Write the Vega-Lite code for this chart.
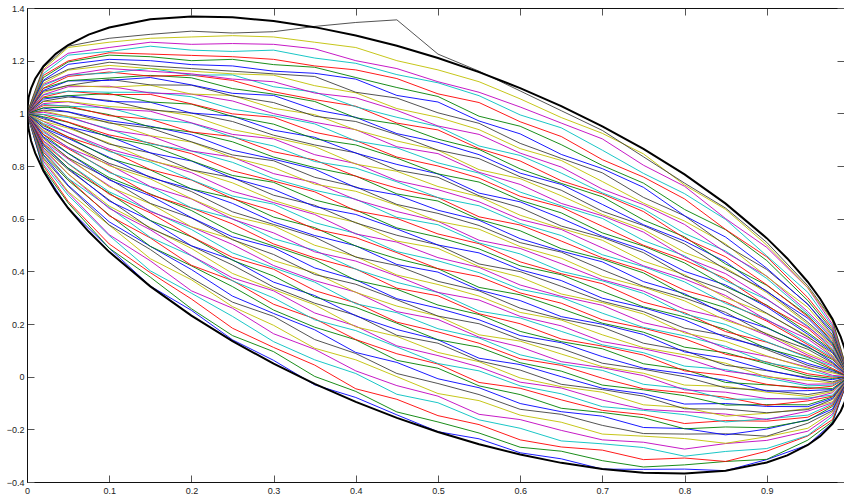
{
"$schema":"https://vega.github.io/schema/vega-lite/v6.json",
"width":817,"height":474,
"autosize":{"type":"none"},
"padding":{"left":27,"top":8,"right":0,"bottom":14},
"background":"white",
"config":{"view":{"stroke":"#111","strokeWidth":1},"axis":{"labelFont":"Liberation Sans","labelFontSize":9,"labelColor":"#222","tickColor":"#555","tickWidth":1,"domainColor":"#111","grid":false,"labelFlush":false,"labelOverlap":false}},
"datasets":{
"lines":[
{"k":0,"x":0,"y":1},{"k":0,"x":0.02,"y":0.785},{"k":0,"x":0.05,"y":0.640},{"k":0,"x":0.1,"y":0.488},{"k":0,"x":0.15,"y":0.344},{"k":0,"x":0.2,"y":0.252},{"k":0,"x":0.25,"y":0.140},{"k":0,"x":0.3,"y":0.062},{"k":0,"x":0.35,"y":-0.031},{"k":0,"x":0.4,"y":-0.079},{"k":0,"x":0.45,"y":-0.145},{"k":0,"x":0.5,"y":-0.209},{"k":0,"x":0.55,"y":-0.236},{"k":0,"x":0.6,"y":-0.289},{"k":0,"x":0.65,"y":-0.312},{"k":0,"x":0.7,"y":-0.351},{"k":0,"x":0.75,"y":-0.352},{"k":0,"x":0.8,"y":-0.351},{"k":0,"x":0.85,"y":-0.357},{"k":0,"x":0.9,"y":-0.315},{"k":0,"x":0.95,"y":-0.259},{"k":0,"x":0.98,"y":-0.175},{"k":0,"x":1,"y":0},
{"k":1,"x":0,"y":1},{"k":1,"x":0.02,"y":0.790},{"k":1,"x":0.05,"y":0.660},{"k":1,"x":0.1,"y":0.488},{"k":1,"x":0.15,"y":0.378},{"k":1,"x":0.2,"y":0.258},{"k":1,"x":0.25,"y":0.156},{"k":1,"x":0.3,"y":0.095},{"k":1,"x":0.35,"y":0.001},{"k":1,"x":0.4,"y":-0.056},{"k":1,"x":0.45,"y":-0.134},{"k":1,"x":0.5,"y":-0.172},{"k":1,"x":0.55,"y":-0.214},{"k":1,"x":0.6,"y":-0.268},{"k":1,"x":0.65,"y":-0.283},{"k":1,"x":0.7,"y":-0.319},{"k":1,"x":0.75,"y":-0.343},{"k":1,"x":0.8,"y":-0.335},{"k":1,"x":0.85,"y":-0.322},{"k":1,"x":0.9,"y":-0.314},{"k":1,"x":0.95,"y":-0.241},{"k":1,"x":0.98,"y":-0.170},{"k":1,"x":1,"y":0},
{"k":2,"x":0,"y":1},{"k":2,"x":0.02,"y":0.801},{"k":2,"x":0.05,"y":0.666},{"k":2,"x":0.1,"y":0.504},{"k":2,"x":0.15,"y":0.395},{"k":2,"x":0.2,"y":0.295},{"k":2,"x":0.25,"y":0.184},{"k":2,"x":0.3,"y":0.111},{"k":2,"x":0.35,"y":0.044},{"k":2,"x":0.4,"y":-0.046},{"k":2,"x":0.45,"y":-0.086},{"k":2,"x":0.5,"y":-0.148},{"k":2,"x":0.55,"y":-0.182},{"k":2,"x":0.6,"y":-0.240},{"k":2,"x":0.65,"y":-0.267},{"k":2,"x":0.7,"y":-0.279},{"k":2,"x":0.75,"y":-0.315},{"k":2,"x":0.8,"y":-0.309},{"k":2,"x":0.85,"y":-0.322},{"k":2,"x":0.9,"y":-0.283},{"k":2,"x":0.95,"y":-0.225},{"k":2,"x":0.98,"y":-0.163},{"k":2,"x":1,"y":0},
{"k":3,"x":0,"y":1},{"k":3,"x":0.02,"y":0.807},{"k":3,"x":0.05,"y":0.689},{"k":3,"x":0.1,"y":0.536},{"k":3,"x":0.15,"y":0.402},{"k":3,"x":0.2,"y":0.317},{"k":3,"x":0.25,"y":0.229},{"k":3,"x":0.3,"y":0.133},{"k":3,"x":0.35,"y":0.064},{"k":3,"x":0.4,"y":0.012},{"k":3,"x":0.45,"y":-0.067},{"k":3,"x":0.5,"y":-0.099},{"k":3,"x":0.55,"y":-0.164},{"k":3,"x":0.6,"y":-0.196},{"k":3,"x":0.65,"y":-0.244},{"k":3,"x":0.7,"y":-0.255},{"k":3,"x":0.75,"y":-0.269},{"k":3,"x":0.8,"y":-0.302},{"k":3,"x":0.85,"y":-0.284},{"k":3,"x":0.9,"y":-0.273},{"k":3,"x":0.95,"y":-0.223},{"k":3,"x":0.98,"y":-0.150},{"k":3,"x":1,"y":0},
{"k":4,"x":0,"y":1},{"k":4,"x":0.02,"y":0.818},{"k":4,"x":0.05,"y":0.699},{"k":4,"x":0.1,"y":0.539},{"k":4,"x":0.15,"y":0.440},{"k":4,"x":0.2,"y":0.326},{"k":4,"x":0.25,"y":0.260},{"k":4,"x":0.3,"y":0.163},{"k":4,"x":0.35,"y":0.104},{"k":4,"x":0.4,"y":0.022},{"k":4,"x":0.45,"y":-0.034},{"k":4,"x":0.5,"y":-0.074},{"k":4,"x":0.55,"y":-0.143},{"k":4,"x":0.6,"y":-0.163},{"k":4,"x":0.65,"y":-0.204},{"k":4,"x":0.7,"y":-0.240},{"k":4,"x":0.75,"y":-0.249},{"k":4,"x":0.8,"y":-0.275},{"k":4,"x":0.85,"y":-0.254},{"k":4,"x":0.9,"y":-0.242},{"k":4,"x":0.95,"y":-0.207},{"k":4,"x":0.98,"y":-0.142},{"k":4,"x":1,"y":0},
{"k":5,"x":0,"y":1},{"k":5,"x":0.02,"y":0.826},{"k":5,"x":0.05,"y":0.703},{"k":5,"x":0.1,"y":0.575},{"k":5,"x":0.15,"y":0.448},{"k":5,"x":0.2,"y":0.368},{"k":5,"x":0.25,"y":0.266},{"k":5,"x":0.3,"y":0.195},{"k":5,"x":0.35,"y":0.108},{"k":5,"x":0.4,"y":0.064},{"k":5,"x":0.45,"y":0.000},{"k":5,"x":0.5,"y":-0.064},{"k":5,"x":0.55,"y":-0.091},{"k":5,"x":0.6,"y":-0.146},{"k":5,"x":0.65,"y":-0.173},{"k":5,"x":0.7,"y":-0.218},{"k":5,"x":0.75,"y":-0.226},{"k":5,"x":0.8,"y":-0.235},{"k":5,"x":0.85,"y":-0.253},{"k":5,"x":0.9,"y":-0.228},{"k":5,"x":0.95,"y":-0.196},{"k":5,"x":0.98,"y":-0.134},{"k":5,"x":1,"y":0},
{"k":6,"x":0,"y":1},{"k":6,"x":0.02,"y":0.831},{"k":6,"x":0.05,"y":0.724},{"k":6,"x":0.1,"y":0.576},{"k":6,"x":0.15,"y":0.483},{"k":6,"x":0.2,"y":0.375},{"k":6,"x":0.25,"y":0.283},{"k":6,"x":0.3,"y":0.229},{"k":6,"x":0.35,"y":0.141},{"k":6,"x":0.4,"y":0.088},{"k":6,"x":0.45,"y":0.012},{"k":6,"x":0.5,"y":-0.026},{"k":6,"x":0.55,"y":-0.068},{"k":6,"x":0.6,"y":-0.124},{"k":6,"x":0.65,"y":-0.143},{"k":6,"x":0.7,"y":-0.185},{"k":6,"x":0.75,"y":-0.216},{"k":6,"x":0.8,"y":-0.218},{"k":6,"x":0.85,"y":-0.217},{"k":6,"x":0.9,"y":-0.226},{"k":6,"x":0.95,"y":-0.177},{"k":6,"x":0.98,"y":-0.129},{"k":6,"x":1,"y":0},
{"k":7,"x":0,"y":1},{"k":7,"x":0.02,"y":0.841},{"k":7,"x":0.05,"y":0.727},{"k":7,"x":0.1,"y":0.588},{"k":7,"x":0.15,"y":0.495},{"k":7,"x":0.2,"y":0.407},{"k":7,"x":0.25,"y":0.306},{"k":7,"x":0.3,"y":0.240},{"k":7,"x":0.35,"y":0.178},{"k":7,"x":0.4,"y":0.092},{"k":7,"x":0.45,"y":0.054},{"k":7,"x":0.5,"y":-0.008},{"k":7,"x":0.55,"y":-0.042},{"k":7,"x":0.6,"y":-0.102},{"k":7,"x":0.65,"y":-0.133},{"k":7,"x":0.7,"y":-0.150},{"k":7,"x":0.75,"y":-0.193},{"k":7,"x":0.8,"y":-0.197},{"k":7,"x":0.85,"y":-0.221},{"k":7,"x":0.9,"y":-0.199},{"k":7,"x":0.95,"y":-0.164},{"k":7,"x":0.98,"y":-0.123},{"k":7,"x":1,"y":0},
{"k":8,"x":0,"y":1},{"k":8,"x":0.02,"y":0.843},{"k":8,"x":0.05,"y":0.746},{"k":8,"x":0.1,"y":0.614},{"k":8,"x":0.15,"y":0.495},{"k":8,"x":0.2,"y":0.421},{"k":8,"x":0.25,"y":0.342},{"k":8,"x":0.3,"y":0.253},{"k":8,"x":0.35,"y":0.188},{"k":8,"x":0.4,"y":0.140},{"k":8,"x":0.45,"y":0.062},{"k":8,"x":0.5,"y":0.032},{"k":8,"x":0.55,"y":-0.035},{"k":8,"x":0.6,"y":-0.068},{"k":8,"x":0.65,"y":-0.120},{"k":8,"x":0.7,"y":-0.136},{"k":8,"x":0.75,"y":-0.156},{"k":8,"x":0.8,"y":-0.198},{"k":8,"x":0.85,"y":-0.191},{"k":8,"x":0.9,"y":-0.194},{"k":8,"x":0.95,"y":-0.166},{"k":8,"x":0.98,"y":-0.113},{"k":8,"x":1,"y":0},
{"k":9,"x":0,"y":1},{"k":9,"x":0.02,"y":0.852},{"k":9,"x":0.05,"y":0.752},{"k":9,"x":0.1,"y":0.611},{"k":9,"x":0.15,"y":0.527},{"k":9,"x":0.2,"y":0.423},{"k":9,"x":0.25,"y":0.365},{"k":9,"x":0.3,"y":0.275},{"k":9,"x":0.35,"y":0.220},{"k":9,"x":0.4,"y":0.141},{"k":9,"x":0.45,"y":0.087},{"k":9,"x":0.5,"y":0.048},{"k":9,"x":0.55,"y":-0.022},{"k":9,"x":0.6,"y":-0.044},{"k":9,"x":0.65,"y":-0.088},{"k":9,"x":0.7,"y":-0.128},{"k":9,"x":0.75,"y":-0.144},{"k":9,"x":0.8,"y":-0.178},{"k":9,"x":0.85,"y":-0.167},{"k":9,"x":0.9,"y":-0.169},{"k":9,"x":0.95,"y":-0.154},{"k":9,"x":0.98,"y":-0.108},{"k":9,"x":1,"y":0},
{"k":10,"x":0,"y":1},{"k":10,"x":0.02,"y":0.858},{"k":10,"x":0.05,"y":0.753},{"k":10,"x":0.1,"y":0.643},{"k":10,"x":0.15,"y":0.529},{"k":10,"x":0.2,"y":0.459},{"k":10,"x":0.25,"y":0.364},{"k":10,"x":0.3,"y":0.299},{"k":10,"x":0.35,"y":0.216},{"k":10,"x":0.4,"y":0.175},{"k":10,"x":0.45,"y":0.113},{"k":10,"x":0.5,"y":0.050},{"k":10,"x":0.55,"y":0.022},{"k":10,"x":0.6,"y":-0.035},{"k":10,"x":0.65,"y":-0.065},{"k":10,"x":0.7,"y":-0.114},{"k":10,"x":0.75,"y":-0.128},{"k":10,"x":0.8,"y":-0.144},{"k":10,"x":0.85,"y":-0.172},{"k":10,"x":0.9,"y":-0.160},{"k":10,"x":0.95,"y":-0.146},{"k":10,"x":0.98,"y":-0.103},{"k":10,"x":1,"y":0},
{"k":11,"x":0,"y":1},{"k":11,"x":0.02,"y":0.861},{"k":11,"x":0.05,"y":0.770},{"k":11,"x":0.1,"y":0.639},{"k":11,"x":0.15,"y":0.558},{"k":11,"x":0.2,"y":0.460},{"k":11,"x":0.25,"y":0.375},{"k":11,"x":0.3,"y":0.326},{"k":11,"x":0.35,"y":0.242},{"k":11,"x":0.4,"y":0.192},{"k":11,"x":0.45,"y":0.117},{"k":11,"x":0.5,"y":0.080},{"k":11,"x":0.55,"y":0.037},{"k":11,"x":0.6,"y":-0.021},{"k":11,"x":0.65,"y":-0.043},{"k":11,"x":0.7,"y":-0.089},{"k":11,"x":0.75,"y":-0.124},{"k":11,"x":0.8,"y":-0.133},{"k":11,"x":0.85,"y":-0.142},{"k":11,"x":0.9,"y":-0.163},{"k":11,"x":0.95,"y":-0.131},{"k":11,"x":0.98,"y":-0.099},{"k":11,"x":1,"y":0},
{"k":12,"x":0,"y":1},{"k":12,"x":0.02,"y":0.869},{"k":12,"x":0.05,"y":0.770},{"k":12,"x":0.1,"y":0.648},{"k":12,"x":0.15,"y":0.566},{"k":12,"x":0.2,"y":0.487},{"k":12,"x":0.25,"y":0.392},{"k":12,"x":0.3,"y":0.331},{"k":12,"x":0.35,"y":0.273},{"k":12,"x":0.4,"y":0.189},{"k":12,"x":0.45,"y":0.153},{"k":12,"x":0.5,"y":0.092},{"k":12,"x":0.55,"y":0.057},{"k":12,"x":0.6,"y":-0.005},{"k":12,"x":0.65,"y":-0.038},{"k":12,"x":0.7,"y":-0.059},{"k":12,"x":0.75,"y":-0.107},{"k":12,"x":0.8,"y":-0.117},{"k":12,"x":0.85,"y":-0.150},{"k":12,"x":0.9,"y":-0.139},{"k":12,"x":0.95,"y":-0.121},{"k":12,"x":0.98,"y":-0.095},{"k":12,"x":1,"y":0},
{"k":13,"x":0,"y":1},{"k":13,"x":0.02,"y":0.870},{"k":13,"x":0.05,"y":0.787},{"k":13,"x":0.1,"y":0.671},{"k":13,"x":0.15,"y":0.563},{"k":13,"x":0.2,"y":0.497},{"k":13,"x":0.25,"y":0.424},{"k":13,"x":0.3,"y":0.340},{"k":13,"x":0.35,"y":0.279},{"k":13,"x":0.4,"y":0.233},{"k":13,"x":0.45,"y":0.157},{"k":13,"x":0.5,"y":0.127},{"k":13,"x":0.55,"y":0.060},{"k":13,"x":0.6,"y":0.025},{"k":13,"x":0.65,"y":-0.029},{"k":13,"x":0.7,"y":-0.049},{"k":13,"x":0.75,"y":-0.074},{"k":13,"x":0.8,"y":-0.122},{"k":13,"x":0.85,"y":-0.123},{"k":13,"x":0.9,"y":-0.137},{"k":13,"x":0.95,"y":-0.125},{"k":13,"x":0.98,"y":-0.086},{"k":13,"x":1,"y":0},
{"k":14,"x":0,"y":1},{"k":14,"x":0.02,"y":0.878},{"k":14,"x":0.05,"y":0.792},{"k":14,"x":0.1,"y":0.667},{"k":14,"x":0.15,"y":0.593},{"k":14,"x":0.2,"y":0.497},{"k":14,"x":0.25,"y":0.444},{"k":14,"x":0.3,"y":0.359},{"k":14,"x":0.35,"y":0.308},{"k":14,"x":0.4,"y":0.231},{"k":14,"x":0.45,"y":0.179},{"k":14,"x":0.5,"y":0.140},{"k":14,"x":0.55,"y":0.070},{"k":14,"x":0.6,"y":0.046},{"k":14,"x":0.65,"y":0.000},{"k":14,"x":0.7,"y":-0.044},{"k":14,"x":0.75,"y":-0.065},{"k":14,"x":0.8,"y":-0.104},{"k":14,"x":0.85,"y":-0.102},{"k":14,"x":0.9,"y":-0.113},{"k":14,"x":0.95,"y":-0.114},{"k":14,"x":0.98,"y":-0.082},{"k":14,"x":1,"y":0},
{"k":15,"x":0,"y":1},{"k":15,"x":0.02,"y":0.883},{"k":15,"x":0.05,"y":0.792},{"k":15,"x":0.1,"y":0.697},{"k":15,"x":0.15,"y":0.593},{"k":15,"x":0.2,"y":0.531},{"k":15,"x":0.25,"y":0.442},{"k":15,"x":0.3,"y":0.382},{"k":15,"x":0.35,"y":0.302},{"k":15,"x":0.4,"y":0.263},{"k":15,"x":0.45,"y":0.203},{"k":15,"x":0.5,"y":0.140},{"k":15,"x":0.55,"y":0.112},{"k":15,"x":0.6,"y":0.053},{"k":15,"x":0.65,"y":0.021},{"k":15,"x":0.7,"y":-0.032},{"k":15,"x":0.75,"y":-0.050},{"k":15,"x":0.8,"y":-0.072},{"k":15,"x":0.85,"y":-0.108},{"k":15,"x":0.9,"y":-0.106},{"k":15,"x":0.95,"y":-0.107},{"k":15,"x":0.98,"y":-0.077},{"k":15,"x":1,"y":0},
{"k":16,"x":0,"y":1},{"k":16,"x":0.02,"y":0.886},{"k":16,"x":0.05,"y":0.809},{"k":16,"x":0.1,"y":0.693},{"k":16,"x":0.15,"y":0.622},{"k":16,"x":0.2,"y":0.532},{"k":16,"x":0.25,"y":0.453},{"k":16,"x":0.3,"y":0.408},{"k":16,"x":0.35,"y":0.327},{"k":16,"x":0.4,"y":0.280},{"k":16,"x":0.45,"y":0.207},{"k":16,"x":0.5,"y":0.170},{"k":16,"x":0.55,"y":0.127},{"k":16,"x":0.6,"y":0.068},{"k":16,"x":0.65,"y":0.043},{"k":16,"x":0.7,"y":-0.006},{"k":16,"x":0.75,"y":-0.046},{"k":16,"x":0.8,"y":-0.061},{"k":16,"x":0.85,"y":-0.078},{"k":16,"x":0.9,"y":-0.109},{"k":16,"x":0.95,"y":-0.092},{"k":16,"x":0.98,"y":-0.074},{"k":16,"x":1,"y":0},
{"k":17,"x":0,"y":1},{"k":17,"x":0.02,"y":0.894},{"k":17,"x":0.05,"y":0.810},{"k":17,"x":0.1,"y":0.702},{"k":17,"x":0.15,"y":0.630},{"k":17,"x":0.2,"y":0.559},{"k":17,"x":0.25,"y":0.470},{"k":17,"x":0.3,"y":0.414},{"k":17,"x":0.35,"y":0.359},{"k":17,"x":0.4,"y":0.277},{"k":17,"x":0.45,"y":0.243},{"k":17,"x":0.5,"y":0.182},{"k":17,"x":0.55,"y":0.147},{"k":17,"x":0.6,"y":0.083},{"k":17,"x":0.65,"y":0.048},{"k":17,"x":0.7,"y":0.024},{"k":17,"x":0.75,"y":-0.029},{"k":17,"x":0.8,"y":-0.045},{"k":17,"x":0.85,"y":-0.086},{"k":17,"x":0.9,"y":-0.085},{"k":17,"x":0.95,"y":-0.081},{"k":17,"x":0.98,"y":-0.070},{"k":17,"x":1,"y":0},
{"k":18,"x":0,"y":1},{"k":18,"x":0.02,"y":0.895},{"k":18,"x":0.05,"y":0.827},{"k":18,"x":0.1,"y":0.725},{"k":18,"x":0.15,"y":0.627},{"k":18,"x":0.2,"y":0.569},{"k":18,"x":0.25,"y":0.502},{"k":18,"x":0.3,"y":0.422},{"k":18,"x":0.35,"y":0.365},{"k":18,"x":0.4,"y":0.321},{"k":18,"x":0.45,"y":0.247},{"k":18,"x":0.5,"y":0.217},{"k":18,"x":0.55,"y":0.150},{"k":18,"x":0.6,"y":0.113},{"k":18,"x":0.65,"y":0.057},{"k":18,"x":0.7,"y":0.034},{"k":18,"x":0.75,"y":0.004},{"k":18,"x":0.8,"y":-0.050},{"k":18,"x":0.85,"y":-0.059},{"k":18,"x":0.9,"y":-0.083},{"k":18,"x":0.95,"y":-0.086},{"k":18,"x":0.98,"y":-0.061},{"k":18,"x":1,"y":0},
{"k":19,"x":0,"y":1},{"k":19,"x":0.02,"y":0.903},{"k":19,"x":0.05,"y":0.831},{"k":19,"x":0.1,"y":0.721},{"k":19,"x":0.15,"y":0.657},{"k":19,"x":0.2,"y":0.569},{"k":19,"x":0.25,"y":0.522},{"k":19,"x":0.3,"y":0.441},{"k":19,"x":0.35,"y":0.394},{"k":19,"x":0.4,"y":0.320},{"k":19,"x":0.45,"y":0.268},{"k":19,"x":0.5,"y":0.230},{"k":19,"x":0.55,"y":0.159},{"k":19,"x":0.6,"y":0.135},{"k":19,"x":0.65,"y":0.086},{"k":19,"x":0.7,"y":0.038},{"k":19,"x":0.75,"y":0.013},{"k":19,"x":0.8,"y":-0.032},{"k":19,"x":0.85,"y":-0.037},{"k":19,"x":0.9,"y":-0.059},{"k":19,"x":0.95,"y":-0.075},{"k":19,"x":0.98,"y":-0.057},{"k":19,"x":1,"y":0},
{"k":20,"x":0,"y":1},{"k":20,"x":0.02,"y":0.908},{"k":20,"x":0.05,"y":0.831},{"k":20,"x":0.1,"y":0.751},{"k":20,"x":0.15,"y":0.658},{"k":20,"x":0.2,"y":0.603},{"k":20,"x":0.25,"y":0.520},{"k":20,"x":0.3,"y":0.464},{"k":20,"x":0.35,"y":0.388},{"k":20,"x":0.4,"y":0.351},{"k":20,"x":0.45,"y":0.292},{"k":20,"x":0.5,"y":0.230},{"k":20,"x":0.55,"y":0.201},{"k":20,"x":0.6,"y":0.141},{"k":20,"x":0.65,"y":0.107},{"k":20,"x":0.7,"y":0.051},{"k":20,"x":0.75,"y":0.028},{"k":20,"x":0.8,"y":0.000},{"k":20,"x":0.85,"y":-0.043},{"k":20,"x":0.9,"y":-0.052},{"k":20,"x":0.95,"y":-0.068},{"k":20,"x":0.98,"y":-0.052},{"k":20,"x":1,"y":0},
{"k":21,"x":0,"y":1},{"k":21,"x":0.02,"y":0.911},{"k":21,"x":0.05,"y":0.848},{"k":21,"x":0.1,"y":0.747},{"k":21,"x":0.15,"y":0.687},{"k":21,"x":0.2,"y":0.604},{"k":21,"x":0.25,"y":0.531},{"k":21,"x":0.3,"y":0.490},{"k":21,"x":0.35,"y":0.413},{"k":21,"x":0.4,"y":0.368},{"k":21,"x":0.45,"y":0.296},{"k":21,"x":0.5,"y":0.260},{"k":21,"x":0.55,"y":0.216},{"k":21,"x":0.6,"y":0.156},{"k":21,"x":0.65,"y":0.129},{"k":21,"x":0.7,"y":0.076},{"k":21,"x":0.75,"y":0.032},{"k":21,"x":0.8,"y":0.011},{"k":21,"x":0.85,"y":-0.014},{"k":21,"x":0.9,"y":-0.055},{"k":21,"x":0.95,"y":-0.053},{"k":21,"x":0.98,"y":-0.049},{"k":21,"x":1,"y":0},
{"k":22,"x":0,"y":1},{"k":22,"x":0.02,"y":0.919},{"k":22,"x":0.05,"y":0.849},{"k":22,"x":0.1,"y":0.756},{"k":22,"x":0.15,"y":0.694},{"k":22,"x":0.2,"y":0.631},{"k":22,"x":0.25,"y":0.548},{"k":22,"x":0.3,"y":0.496},{"k":22,"x":0.35,"y":0.444},{"k":22,"x":0.4,"y":0.366},{"k":22,"x":0.45,"y":0.332},{"k":22,"x":0.5,"y":0.272},{"k":22,"x":0.55,"y":0.236},{"k":22,"x":0.6,"y":0.172},{"k":22,"x":0.65,"y":0.133},{"k":22,"x":0.7,"y":0.106},{"k":22,"x":0.75,"y":0.049},{"k":22,"x":0.8,"y":0.027},{"k":22,"x":0.85,"y":-0.022},{"k":22,"x":0.9,"y":-0.031},{"k":22,"x":0.95,"y":-0.042},{"k":22,"x":0.98,"y":-0.045},{"k":22,"x":1,"y":0},
{"k":23,"x":0,"y":1},{"k":23,"x":0.02,"y":0.920},{"k":23,"x":0.05,"y":0.866},{"k":23,"x":0.1,"y":0.779},{"k":23,"x":0.15,"y":0.691},{"k":23,"x":0.2,"y":0.641},{"k":23,"x":0.25,"y":0.580},{"k":23,"x":0.3,"y":0.504},{"k":23,"x":0.35,"y":0.451},{"k":23,"x":0.4,"y":0.409},{"k":23,"x":0.45,"y":0.336},{"k":23,"x":0.5,"y":0.307},{"k":23,"x":0.55,"y":0.239},{"k":23,"x":0.6,"y":0.201},{"k":23,"x":0.65,"y":0.143},{"k":23,"x":0.7,"y":0.116},{"k":23,"x":0.75,"y":0.082},{"k":23,"x":0.8,"y":0.022},{"k":23,"x":0.85,"y":0.005},{"k":23,"x":0.9,"y":-0.029},{"k":23,"x":0.95,"y":-0.046},{"k":23,"x":0.98,"y":-0.036},{"k":23,"x":1,"y":0},
{"k":24,"x":0,"y":1},{"k":24,"x":0.02,"y":0.928},{"k":24,"x":0.05,"y":0.871},{"k":24,"x":0.1,"y":0.775},{"k":24,"x":0.15,"y":0.721},{"k":24,"x":0.2,"y":0.641},{"k":24,"x":0.25,"y":0.600},{"k":24,"x":0.3,"y":0.524},{"k":24,"x":0.35,"y":0.480},{"k":24,"x":0.4,"y":0.408},{"k":24,"x":0.45,"y":0.358},{"k":24,"x":0.5,"y":0.320},{"k":24,"x":0.55,"y":0.249},{"k":24,"x":0.6,"y":0.223},{"k":24,"x":0.65,"y":0.172},{"k":24,"x":0.7,"y":0.121},{"k":24,"x":0.75,"y":0.091},{"k":24,"x":0.8,"y":0.040},{"k":24,"x":0.85,"y":0.027},{"k":24,"x":0.9,"y":-0.005},{"k":24,"x":0.95,"y":-0.035},{"k":24,"x":0.98,"y":-0.032},{"k":24,"x":1,"y":0},
{"k":25,"x":0,"y":1},{"k":25,"x":0.02,"y":0.933},{"k":25,"x":0.05,"y":0.870},{"k":25,"x":0.1,"y":0.805},{"k":25,"x":0.15,"y":0.722},{"k":25,"x":0.2,"y":0.675},{"k":25,"x":0.25,"y":0.598},{"k":25,"x":0.3,"y":0.546},{"k":25,"x":0.35,"y":0.474},{"k":25,"x":0.4,"y":0.439},{"k":25,"x":0.45,"y":0.382},{"k":25,"x":0.5,"y":0.320},{"k":25,"x":0.55,"y":0.291},{"k":25,"x":0.6,"y":0.229},{"k":25,"x":0.65,"y":0.193},{"k":25,"x":0.7,"y":0.133},{"k":25,"x":0.75,"y":0.106},{"k":25,"x":0.8,"y":0.072},{"k":25,"x":0.85,"y":0.021},{"k":25,"x":0.9,"y":0.002},{"k":25,"x":0.95,"y":-0.029},{"k":25,"x":0.98,"y":-0.027},{"k":25,"x":1,"y":0},
{"k":26,"x":0,"y":1},{"k":26,"x":0.02,"y":0.936},{"k":26,"x":0.05,"y":0.887},{"k":26,"x":0.1,"y":0.801},{"k":26,"x":0.15,"y":0.751},{"k":26,"x":0.2,"y":0.676},{"k":26,"x":0.25,"y":0.609},{"k":26,"x":0.3,"y":0.573},{"k":26,"x":0.35,"y":0.499},{"k":26,"x":0.4,"y":0.456},{"k":26,"x":0.45,"y":0.386},{"k":26,"x":0.5,"y":0.350},{"k":26,"x":0.55,"y":0.306},{"k":26,"x":0.6,"y":0.244},{"k":26,"x":0.65,"y":0.215},{"k":26,"x":0.7,"y":0.159},{"k":26,"x":0.75,"y":0.110},{"k":26,"x":0.8,"y":0.083},{"k":26,"x":0.85,"y":0.051},{"k":26,"x":0.9,"y":-0.001},{"k":26,"x":0.95,"y":-0.014},{"k":26,"x":0.98,"y":-0.024},{"k":26,"x":1,"y":0},
{"k":27,"x":0,"y":1},{"k":27,"x":0.02,"y":0.944},{"k":27,"x":0.05,"y":0.888},{"k":27,"x":0.1,"y":0.810},{"k":27,"x":0.15,"y":0.759},{"k":27,"x":0.2,"y":0.703},{"k":27,"x":0.25,"y":0.626},{"k":27,"x":0.3,"y":0.578},{"k":27,"x":0.35,"y":0.530},{"k":27,"x":0.4,"y":0.454},{"k":27,"x":0.45,"y":0.422},{"k":27,"x":0.5,"y":0.362},{"k":27,"x":0.55,"y":0.326},{"k":27,"x":0.6,"y":0.260},{"k":27,"x":0.65,"y":0.219},{"k":27,"x":0.7,"y":0.188},{"k":27,"x":0.75,"y":0.127},{"k":27,"x":0.8,"y":0.099},{"k":27,"x":0.85,"y":0.043},{"k":27,"x":0.9,"y":0.023},{"k":27,"x":0.95,"y":-0.003},{"k":27,"x":0.98,"y":-0.020},{"k":27,"x":1,"y":0},
{"k":28,"x":0,"y":1},{"k":28,"x":0.02,"y":0.945},{"k":28,"x":0.05,"y":0.905},{"k":28,"x":0.1,"y":0.833},{"k":28,"x":0.15,"y":0.756},{"k":28,"x":0.2,"y":0.713},{"k":28,"x":0.25,"y":0.658},{"k":28,"x":0.3,"y":0.587},{"k":28,"x":0.35,"y":0.536},{"k":28,"x":0.4,"y":0.497},{"k":28,"x":0.45,"y":0.426},{"k":28,"x":0.5,"y":0.397},{"k":28,"x":0.55,"y":0.329},{"k":28,"x":0.6,"y":0.289},{"k":28,"x":0.65,"y":0.228},{"k":28,"x":0.7,"y":0.199},{"k":28,"x":0.75,"y":0.160},{"k":28,"x":0.8,"y":0.094},{"k":28,"x":0.85,"y":0.070},{"k":28,"x":0.9,"y":0.025},{"k":28,"x":0.95,"y":-0.007},{"k":28,"x":0.98,"y":-0.011},{"k":28,"x":1,"y":0},
{"k":29,"x":0,"y":1},{"k":29,"x":0.02,"y":0.953},{"k":29,"x":0.05,"y":0.910},{"k":29,"x":0.1,"y":0.829},{"k":29,"x":0.15,"y":0.785},{"k":29,"x":0.2,"y":0.713},{"k":29,"x":0.25,"y":0.678},{"k":29,"x":0.3,"y":0.606},{"k":29,"x":0.35,"y":0.566},{"k":29,"x":0.4,"y":0.496},{"k":29,"x":0.45,"y":0.448},{"k":29,"x":0.5,"y":0.410},{"k":29,"x":0.55,"y":0.339},{"k":29,"x":0.6,"y":0.311},{"k":29,"x":0.65,"y":0.258},{"k":29,"x":0.7,"y":0.203},{"k":29,"x":0.75,"y":0.169},{"k":29,"x":0.8,"y":0.112},{"k":29,"x":0.85,"y":0.091},{"k":29,"x":0.9,"y":0.049},{"k":29,"x":0.95,"y":0.004},{"k":29,"x":0.98,"y":-0.007},{"k":29,"x":1,"y":0},
{"k":30,"x":0,"y":1},{"k":30,"x":0.02,"y":0.958},{"k":30,"x":0.05,"y":0.910},{"k":30,"x":0.1,"y":0.859},{"k":30,"x":0.15,"y":0.786},{"k":30,"x":0.2,"y":0.747},{"k":30,"x":0.25,"y":0.676},{"k":30,"x":0.3,"y":0.629},{"k":30,"x":0.35,"y":0.560},{"k":30,"x":0.4,"y":0.528},{"k":30,"x":0.45,"y":0.471},{"k":30,"x":0.5,"y":0.410},{"k":30,"x":0.55,"y":0.380},{"k":30,"x":0.6,"y":0.318},{"k":30,"x":0.65,"y":0.279},{"k":30,"x":0.7,"y":0.216},{"k":30,"x":0.75,"y":0.184},{"k":30,"x":0.8,"y":0.144},{"k":30,"x":0.85,"y":0.085},{"k":30,"x":0.9,"y":0.056},{"k":30,"x":0.95,"y":0.011},{"k":30,"x":0.98,"y":-0.002},{"k":30,"x":1,"y":0},
{"k":31,"x":0,"y":1},{"k":31,"x":0.02,"y":0.961},{"k":31,"x":0.05,"y":0.927},{"k":31,"x":0.1,"y":0.855},{"k":31,"x":0.15,"y":0.815},{"k":31,"x":0.2,"y":0.748},{"k":31,"x":0.25,"y":0.686},{"k":31,"x":0.3,"y":0.655},{"k":31,"x":0.35,"y":0.585},{"k":31,"x":0.4,"y":0.544},{"k":31,"x":0.45,"y":0.475},{"k":31,"x":0.5,"y":0.440},{"k":31,"x":0.55,"y":0.395},{"k":31,"x":0.6,"y":0.332},{"k":31,"x":0.65,"y":0.301},{"k":31,"x":0.7,"y":0.241},{"k":31,"x":0.75,"y":0.187},{"k":31,"x":0.8,"y":0.155},{"k":31,"x":0.85,"y":0.115},{"k":31,"x":0.9,"y":0.053},{"k":31,"x":0.95,"y":0.026},{"k":31,"x":0.98,"y":0.001},{"k":31,"x":1,"y":0},
{"k":32,"x":0,"y":1},{"k":32,"x":0.02,"y":0.969},{"k":32,"x":0.05,"y":0.927},{"k":32,"x":0.1,"y":0.864},{"k":32,"x":0.15,"y":0.823},{"k":32,"x":0.2,"y":0.775},{"k":32,"x":0.25,"y":0.704},{"k":32,"x":0.3,"y":0.661},{"k":32,"x":0.35,"y":0.616},{"k":32,"x":0.4,"y":0.542},{"k":32,"x":0.45,"y":0.511},{"k":32,"x":0.5,"y":0.452},{"k":32,"x":0.55,"y":0.415},{"k":32,"x":0.6,"y":0.348},{"k":32,"x":0.65,"y":0.305},{"k":32,"x":0.7,"y":0.271},{"k":32,"x":0.75,"y":0.205},{"k":32,"x":0.8,"y":0.171},{"k":32,"x":0.85,"y":0.107},{"k":32,"x":0.9,"y":0.077},{"k":32,"x":0.95,"y":0.036},{"k":32,"x":0.98,"y":0.005},{"k":32,"x":1,"y":0},
{"k":33,"x":0,"y":1},{"k":33,"x":0.02,"y":0.970},{"k":33,"x":0.05,"y":0.944},{"k":33,"x":0.1,"y":0.887},{"k":33,"x":0.15,"y":0.820},{"k":33,"x":0.2,"y":0.785},{"k":33,"x":0.25,"y":0.736},{"k":33,"x":0.3,"y":0.669},{"k":33,"x":0.35,"y":0.622},{"k":33,"x":0.4,"y":0.586},{"k":33,"x":0.45,"y":0.515},{"k":33,"x":0.5,"y":0.487},{"k":33,"x":0.55,"y":0.418},{"k":33,"x":0.6,"y":0.378},{"k":33,"x":0.65,"y":0.314},{"k":33,"x":0.7,"y":0.281},{"k":33,"x":0.75,"y":0.238},{"k":33,"x":0.8,"y":0.166},{"k":33,"x":0.85,"y":0.134},{"k":33,"x":0.9,"y":0.079},{"k":33,"x":0.95,"y":0.032},{"k":33,"x":0.98,"y":0.014},{"k":33,"x":1,"y":0},
{"k":34,"x":0,"y":1},{"k":34,"x":0.02,"y":0.979},{"k":34,"x":0.05,"y":0.949},{"k":34,"x":0.1,"y":0.883},{"k":34,"x":0.15,"y":0.850},{"k":34,"x":0.2,"y":0.785},{"k":34,"x":0.25,"y":0.756},{"k":34,"x":0.3,"y":0.689},{"k":34,"x":0.35,"y":0.651},{"k":34,"x":0.4,"y":0.584},{"k":34,"x":0.45,"y":0.537},{"k":34,"x":0.5,"y":0.500},{"k":34,"x":0.55,"y":0.428},{"k":34,"x":0.6,"y":0.399},{"k":34,"x":0.65,"y":0.343},{"k":34,"x":0.7,"y":0.286},{"k":34,"x":0.75,"y":0.247},{"k":34,"x":0.8,"y":0.184},{"k":34,"x":0.85,"y":0.156},{"k":34,"x":0.9,"y":0.103},{"k":34,"x":0.95,"y":0.043},{"k":34,"x":0.98,"y":0.019},{"k":34,"x":1,"y":0},
{"k":35,"x":0,"y":1},{"k":35,"x":0.02,"y":0.984},{"k":35,"x":0.05,"y":0.949},{"k":35,"x":0.1,"y":0.913},{"k":35,"x":0.15,"y":0.850},{"k":35,"x":0.2,"y":0.819},{"k":35,"x":0.25,"y":0.754},{"k":35,"x":0.3,"y":0.711},{"k":35,"x":0.35,"y":0.646},{"k":35,"x":0.4,"y":0.616},{"k":35,"x":0.45,"y":0.561},{"k":35,"x":0.5,"y":0.500},{"k":35,"x":0.55,"y":0.470},{"k":35,"x":0.6,"y":0.406},{"k":35,"x":0.65,"y":0.365},{"k":35,"x":0.7,"y":0.298},{"k":35,"x":0.75,"y":0.262},{"k":35,"x":0.8,"y":0.216},{"k":35,"x":0.85,"y":0.149},{"k":35,"x":0.9,"y":0.110},{"k":35,"x":0.95,"y":0.050},{"k":35,"x":0.98,"y":0.024},{"k":35,"x":1,"y":0},
{"k":36,"x":0,"y":1},{"k":36,"x":0.02,"y":0.987},{"k":36,"x":0.05,"y":0.966},{"k":36,"x":0.1,"y":0.909},{"k":36,"x":0.15,"y":0.879},{"k":36,"x":0.2,"y":0.820},{"k":36,"x":0.25,"y":0.764},{"k":36,"x":0.3,"y":0.738},{"k":36,"x":0.35,"y":0.671},{"k":36,"x":0.4,"y":0.633},{"k":36,"x":0.45,"y":0.565},{"k":36,"x":0.5,"y":0.530},{"k":36,"x":0.55,"y":0.485},{"k":36,"x":0.6,"y":0.421},{"k":36,"x":0.65,"y":0.387},{"k":36,"x":0.7,"y":0.324},{"k":36,"x":0.75,"y":0.265},{"k":36,"x":0.8,"y":0.227},{"k":36,"x":0.85,"y":0.179},{"k":36,"x":0.9,"y":0.107},{"k":36,"x":0.95,"y":0.065},{"k":36,"x":0.98,"y":0.027},{"k":36,"x":1,"y":0},
{"k":37,"x":0,"y":1},{"k":37,"x":0.02,"y":0.995},{"k":37,"x":0.05,"y":0.967},{"k":37,"x":0.1,"y":0.918},{"k":37,"x":0.15,"y":0.887},{"k":37,"x":0.2,"y":0.847},{"k":37,"x":0.25,"y":0.782},{"k":37,"x":0.3,"y":0.743},{"k":37,"x":0.35,"y":0.702},{"k":37,"x":0.4,"y":0.630},{"k":37,"x":0.45,"y":0.601},{"k":37,"x":0.5,"y":0.542},{"k":37,"x":0.55,"y":0.505},{"k":37,"x":0.6,"y":0.436},{"k":37,"x":0.65,"y":0.391},{"k":37,"x":0.7,"y":0.353},{"k":37,"x":0.75,"y":0.283},{"k":37,"x":0.8,"y":0.243},{"k":37,"x":0.85,"y":0.171},{"k":37,"x":0.9,"y":0.131},{"k":37,"x":0.95,"y":0.076},{"k":37,"x":0.98,"y":0.031},{"k":37,"x":1,"y":0},
{"k":38,"x":0,"y":1},{"k":38,"x":0.02,"y":0.996},{"k":38,"x":0.05,"y":0.984},{"k":38,"x":0.1,"y":0.941},{"k":38,"x":0.15,"y":0.884},{"k":38,"x":0.2,"y":0.857},{"k":38,"x":0.25,"y":0.814},{"k":38,"x":0.3,"y":0.752},{"k":38,"x":0.35,"y":0.708},{"k":38,"x":0.4,"y":0.674},{"k":38,"x":0.45,"y":0.605},{"k":38,"x":0.5,"y":0.577},{"k":38,"x":0.55,"y":0.508},{"k":38,"x":0.6,"y":0.466},{"k":38,"x":0.65,"y":0.400},{"k":38,"x":0.7,"y":0.364},{"k":38,"x":0.75,"y":0.316},{"k":38,"x":0.8,"y":0.238},{"k":38,"x":0.85,"y":0.198},{"k":38,"x":0.9,"y":0.133},{"k":38,"x":0.95,"y":0.072},{"k":38,"x":0.98,"y":0.040},{"k":38,"x":1,"y":0},
{"k":39,"x":0,"y":1},{"k":39,"x":0.02,"y":1.004},{"k":39,"x":0.05,"y":0.988},{"k":39,"x":0.1,"y":0.937},{"k":39,"x":0.15,"y":0.914},{"k":39,"x":0.2,"y":0.857},{"k":39,"x":0.25,"y":0.834},{"k":39,"x":0.3,"y":0.771},{"k":39,"x":0.35,"y":0.737},{"k":39,"x":0.4,"y":0.672},{"k":39,"x":0.45,"y":0.627},{"k":39,"x":0.5,"y":0.590},{"k":39,"x":0.55,"y":0.518},{"k":39,"x":0.6,"y":0.487},{"k":39,"x":0.65,"y":0.429},{"k":39,"x":0.7,"y":0.368},{"k":39,"x":0.75,"y":0.325},{"k":39,"x":0.8,"y":0.256},{"k":39,"x":0.85,"y":0.220},{"k":39,"x":0.9,"y":0.157},{"k":39,"x":0.95,"y":0.082},{"k":39,"x":0.98,"y":0.044},{"k":39,"x":1,"y":0},
{"k":40,"x":0,"y":1},{"k":40,"x":0.02,"y":1.009},{"k":40,"x":0.05,"y":0.988},{"k":40,"x":0.1,"y":0.967},{"k":40,"x":0.15,"y":0.915},{"k":40,"x":0.2,"y":0.891},{"k":40,"x":0.25,"y":0.832},{"k":40,"x":0.3,"y":0.794},{"k":40,"x":0.35,"y":0.731},{"k":40,"x":0.4,"y":0.704},{"k":40,"x":0.45,"y":0.651},{"k":40,"x":0.5,"y":0.590},{"k":40,"x":0.55,"y":0.560},{"k":40,"x":0.6,"y":0.494},{"k":40,"x":0.65,"y":0.450},{"k":40,"x":0.7,"y":0.381},{"k":40,"x":0.75,"y":0.340},{"k":40,"x":0.8,"y":0.288},{"k":40,"x":0.85,"y":0.214},{"k":40,"x":0.9,"y":0.164},{"k":40,"x":0.95,"y":0.089},{"k":40,"x":0.98,"y":0.049},{"k":40,"x":1,"y":0},
{"k":41,"x":0,"y":1},{"k":41,"x":0.02,"y":1.012},{"k":41,"x":0.05,"y":1.005},{"k":41,"x":0.1,"y":0.963},{"k":41,"x":0.15,"y":0.944},{"k":41,"x":0.2,"y":0.892},{"k":41,"x":0.25,"y":0.842},{"k":41,"x":0.3,"y":0.820},{"k":41,"x":0.35,"y":0.757},{"k":41,"x":0.4,"y":0.721},{"k":41,"x":0.45,"y":0.654},{"k":41,"x":0.5,"y":0.620},{"k":41,"x":0.55,"y":0.574},{"k":41,"x":0.6,"y":0.509},{"k":41,"x":0.65,"y":0.473},{"k":41,"x":0.7,"y":0.406},{"k":41,"x":0.75,"y":0.343},{"k":41,"x":0.8,"y":0.299},{"k":41,"x":0.85,"y":0.244},{"k":41,"x":0.9,"y":0.161},{"k":41,"x":0.95,"y":0.104},{"k":41,"x":0.98,"y":0.052},{"k":41,"x":1,"y":0},
{"k":42,"x":0,"y":1},{"k":42,"x":0.02,"y":1.020},{"k":42,"x":0.05,"y":1.006},{"k":42,"x":0.1,"y":0.972},{"k":42,"x":0.15,"y":0.951},{"k":42,"x":0.2,"y":0.919},{"k":42,"x":0.25,"y":0.860},{"k":42,"x":0.3,"y":0.826},{"k":42,"x":0.35,"y":0.788},{"k":42,"x":0.4,"y":0.718},{"k":42,"x":0.45,"y":0.690},{"k":42,"x":0.5,"y":0.632},{"k":42,"x":0.55,"y":0.594},{"k":42,"x":0.6,"y":0.524},{"k":42,"x":0.65,"y":0.477},{"k":42,"x":0.7,"y":0.436},{"k":42,"x":0.75,"y":0.361},{"k":42,"x":0.8,"y":0.315},{"k":42,"x":0.85,"y":0.235},{"k":42,"x":0.9,"y":0.185},{"k":42,"x":0.95,"y":0.115},{"k":42,"x":0.98,"y":0.056},{"k":42,"x":1,"y":0},
{"k":43,"x":0,"y":1},{"k":43,"x":0.02,"y":1.021},{"k":43,"x":0.05,"y":1.023},{"k":43,"x":0.1,"y":0.995},{"k":43,"x":0.15,"y":0.948},{"k":43,"x":0.2,"y":0.929},{"k":43,"x":0.25,"y":0.892},{"k":43,"x":0.3,"y":0.834},{"k":43,"x":0.35,"y":0.794},{"k":43,"x":0.4,"y":0.762},{"k":43,"x":0.45,"y":0.694},{"k":43,"x":0.5,"y":0.667},{"k":43,"x":0.55,"y":0.597},{"k":43,"x":0.6,"y":0.554},{"k":43,"x":0.65,"y":0.486},{"k":43,"x":0.7,"y":0.446},{"k":43,"x":0.75,"y":0.394},{"k":43,"x":0.8,"y":0.310},{"k":43,"x":0.85,"y":0.262},{"k":43,"x":0.9,"y":0.187},{"k":43,"x":0.95,"y":0.111},{"k":43,"x":0.98,"y":0.065},{"k":43,"x":1,"y":0},
{"k":44,"x":0,"y":1},{"k":44,"x":0.02,"y":1.029},{"k":44,"x":0.05,"y":1.028},{"k":44,"x":0.1,"y":0.991},{"k":44,"x":0.15,"y":0.978},{"k":44,"x":0.2,"y":0.929},{"k":44,"x":0.25,"y":0.912},{"k":44,"x":0.3,"y":0.854},{"k":44,"x":0.35,"y":0.823},{"k":44,"x":0.4,"y":0.761},{"k":44,"x":0.45,"y":0.716},{"k":44,"x":0.5,"y":0.680},{"k":44,"x":0.55,"y":0.607},{"k":44,"x":0.6,"y":0.576},{"k":44,"x":0.65,"y":0.515},{"k":44,"x":0.7,"y":0.451},{"k":44,"x":0.75,"y":0.403},{"k":44,"x":0.8,"y":0.328},{"k":44,"x":0.85,"y":0.284},{"k":44,"x":0.9,"y":0.211},{"k":44,"x":0.95,"y":0.122},{"k":44,"x":0.98,"y":0.069},{"k":44,"x":1,"y":0},
{"k":45,"x":0,"y":1},{"k":45,"x":0.02,"y":1.034},{"k":45,"x":0.05,"y":1.027},{"k":45,"x":0.1,"y":1.021},{"k":45,"x":0.15,"y":0.979},{"k":45,"x":0.2,"y":0.963},{"k":45,"x":0.25,"y":0.910},{"k":45,"x":0.3,"y":0.876},{"k":45,"x":0.35,"y":0.817},{"k":45,"x":0.4,"y":0.792},{"k":45,"x":0.45,"y":0.740},{"k":45,"x":0.5,"y":0.680},{"k":45,"x":0.55,"y":0.649},{"k":45,"x":0.6,"y":0.582},{"k":45,"x":0.65,"y":0.536},{"k":45,"x":0.7,"y":0.463},{"k":45,"x":0.75,"y":0.418},{"k":45,"x":0.8,"y":0.360},{"k":45,"x":0.85,"y":0.278},{"k":45,"x":0.9,"y":0.218},{"k":45,"x":0.95,"y":0.128},{"k":45,"x":0.98,"y":0.074},{"k":45,"x":1,"y":0},
{"k":46,"x":0,"y":1},{"k":46,"x":0.02,"y":1.037},{"k":46,"x":0.05,"y":1.044},{"k":46,"x":0.1,"y":1.017},{"k":46,"x":0.15,"y":1.008},{"k":46,"x":0.2,"y":0.964},{"k":46,"x":0.25,"y":0.920},{"k":46,"x":0.3,"y":0.903},{"k":46,"x":0.35,"y":0.843},{"k":46,"x":0.4,"y":0.809},{"k":46,"x":0.45,"y":0.744},{"k":46,"x":0.5,"y":0.710},{"k":46,"x":0.55,"y":0.664},{"k":46,"x":0.6,"y":0.597},{"k":46,"x":0.65,"y":0.559},{"k":46,"x":0.7,"y":0.489},{"k":46,"x":0.75,"y":0.421},{"k":46,"x":0.8,"y":0.371},{"k":46,"x":0.85,"y":0.308},{"k":46,"x":0.9,"y":0.215},{"k":46,"x":0.95,"y":0.143},{"k":46,"x":0.98,"y":0.077},{"k":46,"x":1,"y":0},
{"k":47,"x":0,"y":1},{"k":47,"x":0.02,"y":1.045},{"k":47,"x":0.05,"y":1.045},{"k":47,"x":0.1,"y":1.026},{"k":47,"x":0.15,"y":1.016},{"k":47,"x":0.2,"y":0.991},{"k":47,"x":0.25,"y":0.938},{"k":47,"x":0.3,"y":0.908},{"k":47,"x":0.35,"y":0.874},{"k":47,"x":0.4,"y":0.807},{"k":47,"x":0.45,"y":0.780},{"k":47,"x":0.5,"y":0.722},{"k":47,"x":0.55,"y":0.684},{"k":47,"x":0.6,"y":0.613},{"k":47,"x":0.65,"y":0.563},{"k":47,"x":0.7,"y":0.518},{"k":47,"x":0.75,"y":0.439},{"k":47,"x":0.8,"y":0.387},{"k":47,"x":0.85,"y":0.300},{"k":47,"x":0.9,"y":0.239},{"k":47,"x":0.95,"y":0.154},{"k":47,"x":0.98,"y":0.081},{"k":47,"x":1,"y":0},
{"k":48,"x":0,"y":1},{"k":48,"x":0.02,"y":1.046},{"k":48,"x":0.05,"y":1.062},{"k":48,"x":0.1,"y":1.049},{"k":48,"x":0.15,"y":1.013},{"k":48,"x":0.2,"y":1.001},{"k":48,"x":0.25,"y":0.969},{"k":48,"x":0.3,"y":0.917},{"k":48,"x":0.35,"y":0.880},{"k":48,"x":0.4,"y":0.850},{"k":48,"x":0.45,"y":0.784},{"k":48,"x":0.5,"y":0.757},{"k":48,"x":0.55,"y":0.687},{"k":48,"x":0.6,"y":0.642},{"k":48,"x":0.65,"y":0.572},{"k":48,"x":0.7,"y":0.529},{"k":48,"x":0.75,"y":0.471},{"k":48,"x":0.8,"y":0.382},{"k":48,"x":0.85,"y":0.327},{"k":48,"x":0.9,"y":0.241},{"k":48,"x":0.95,"y":0.150},{"k":48,"x":0.98,"y":0.090},{"k":48,"x":1,"y":0},
{"k":49,"x":0,"y":1},{"k":49,"x":0.02,"y":1.054},{"k":49,"x":0.05,"y":1.067},{"k":49,"x":0.1,"y":1.045},{"k":49,"x":0.15,"y":1.042},{"k":49,"x":0.2,"y":1.001},{"k":49,"x":0.25,"y":0.990},{"k":49,"x":0.3,"y":0.936},{"k":49,"x":0.35,"y":0.909},{"k":49,"x":0.4,"y":0.849},{"k":49,"x":0.45,"y":0.806},{"k":49,"x":0.5,"y":0.770},{"k":49,"x":0.55,"y":0.697},{"k":49,"x":0.6,"y":0.664},{"k":49,"x":0.65,"y":0.601},{"k":49,"x":0.7,"y":0.533},{"k":49,"x":0.75,"y":0.481},{"k":49,"x":0.8,"y":0.400},{"k":49,"x":0.85,"y":0.348},{"k":49,"x":0.9,"y":0.265},{"k":49,"x":0.95,"y":0.161},{"k":49,"x":0.98,"y":0.094},{"k":49,"x":1,"y":0},
{"k":50,"x":0,"y":1},{"k":50,"x":0.02,"y":1.059},{"k":50,"x":0.05,"y":1.067},{"k":50,"x":0.1,"y":1.075},{"k":50,"x":0.15,"y":1.043},{"k":50,"x":0.2,"y":1.035},{"k":50,"x":0.25,"y":0.988},{"k":50,"x":0.3,"y":0.959},{"k":50,"x":0.35,"y":0.903},{"k":50,"x":0.4,"y":0.880},{"k":50,"x":0.45,"y":0.830},{"k":50,"x":0.5,"y":0.770},{"k":50,"x":0.55,"y":0.739},{"k":50,"x":0.6,"y":0.670},{"k":50,"x":0.65,"y":0.622},{"k":50,"x":0.7,"y":0.546},{"k":50,"x":0.75,"y":0.496},{"k":50,"x":0.8,"y":0.432},{"k":50,"x":0.85,"y":0.342},{"k":50,"x":0.9,"y":0.272},{"k":50,"x":0.95,"y":0.168},{"k":50,"x":0.98,"y":0.099},{"k":50,"x":1,"y":0},
{"k":51,"x":0,"y":1},{"k":51,"x":0.02,"y":1.062},{"k":51,"x":0.05,"y":1.084},{"k":51,"x":0.1,"y":1.071},{"k":51,"x":0.15,"y":1.072},{"k":51,"x":0.2,"y":1.036},{"k":51,"x":0.25,"y":0.998},{"k":51,"x":0.3,"y":0.985},{"k":51,"x":0.35,"y":0.928},{"k":51,"x":0.4,"y":0.897},{"k":51,"x":0.45,"y":0.834},{"k":51,"x":0.5,"y":0.800},{"k":51,"x":0.55,"y":0.754},{"k":51,"x":0.6,"y":0.685},{"k":51,"x":0.65,"y":0.644},{"k":51,"x":0.7,"y":0.571},{"k":51,"x":0.75,"y":0.499},{"k":51,"x":0.8,"y":0.443},{"k":51,"x":0.85,"y":0.372},{"k":51,"x":0.9,"y":0.269},{"k":51,"x":0.95,"y":0.183},{"k":51,"x":0.98,"y":0.102},{"k":51,"x":1,"y":0},
{"k":52,"x":0,"y":1},{"k":52,"x":0.02,"y":1.070},{"k":52,"x":0.05,"y":1.084},{"k":52,"x":0.1,"y":1.080},{"k":52,"x":0.15,"y":1.080},{"k":52,"x":0.2,"y":1.063},{"k":52,"x":0.25,"y":1.016},{"k":52,"x":0.3,"y":0.991},{"k":52,"x":0.35,"y":0.960},{"k":52,"x":0.4,"y":0.895},{"k":52,"x":0.45,"y":0.869},{"k":52,"x":0.5,"y":0.812},{"k":52,"x":0.55,"y":0.773},{"k":52,"x":0.6,"y":0.701},{"k":52,"x":0.65,"y":0.649},{"k":52,"x":0.7,"y":0.601},{"k":52,"x":0.75,"y":0.517},{"k":52,"x":0.8,"y":0.459},{"k":52,"x":0.85,"y":0.364},{"k":52,"x":0.9,"y":0.293},{"k":52,"x":0.95,"y":0.193},{"k":52,"x":0.98,"y":0.106},{"k":52,"x":1,"y":0},
{"k":53,"x":0,"y":1},{"k":53,"x":0.02,"y":1.071},{"k":53,"x":0.05,"y":1.101},{"k":53,"x":0.1,"y":1.103},{"k":53,"x":0.15,"y":1.077},{"k":53,"x":0.2,"y":1.073},{"k":53,"x":0.25,"y":1.047},{"k":53,"x":0.3,"y":0.999},{"k":53,"x":0.35,"y":0.966},{"k":53,"x":0.4,"y":0.938},{"k":53,"x":0.45,"y":0.873},{"k":53,"x":0.5,"y":0.847},{"k":53,"x":0.55,"y":0.776},{"k":53,"x":0.6,"y":0.730},{"k":53,"x":0.65,"y":0.658},{"k":53,"x":0.7,"y":0.611},{"k":53,"x":0.75,"y":0.549},{"k":53,"x":0.8,"y":0.454},{"k":53,"x":0.85,"y":0.391},{"k":53,"x":0.9,"y":0.295},{"k":53,"x":0.95,"y":0.189},{"k":53,"x":0.98,"y":0.115},{"k":53,"x":1,"y":0},
{"k":54,"x":0,"y":1},{"k":54,"x":0.02,"y":1.079},{"k":54,"x":0.05,"y":1.106},{"k":54,"x":0.1,"y":1.099},{"k":54,"x":0.15,"y":1.107},{"k":54,"x":0.2,"y":1.073},{"k":54,"x":0.25,"y":1.068},{"k":54,"x":0.3,"y":1.019},{"k":54,"x":0.35,"y":0.995},{"k":54,"x":0.4,"y":0.937},{"k":54,"x":0.45,"y":0.895},{"k":54,"x":0.5,"y":0.860},{"k":54,"x":0.55,"y":0.786},{"k":54,"x":0.6,"y":0.752},{"k":54,"x":0.65,"y":0.687},{"k":54,"x":0.7,"y":0.616},{"k":54,"x":0.75,"y":0.559},{"k":54,"x":0.8,"y":0.472},{"k":54,"x":0.85,"y":0.413},{"k":54,"x":0.9,"y":0.319},{"k":54,"x":0.95,"y":0.200},{"k":54,"x":0.98,"y":0.119},{"k":54,"x":1,"y":0},
{"k":55,"x":0,"y":1},{"k":55,"x":0.02,"y":1.084},{"k":55,"x":0.05,"y":1.106},{"k":55,"x":0.1,"y":1.129},{"k":55,"x":0.15,"y":1.108},{"k":55,"x":0.2,"y":1.107},{"k":55,"x":0.25,"y":1.066},{"k":55,"x":0.3,"y":1.041},{"k":55,"x":0.35,"y":0.989},{"k":55,"x":0.4,"y":0.969},{"k":55,"x":0.45,"y":0.919},{"k":55,"x":0.5,"y":0.860},{"k":55,"x":0.55,"y":0.828},{"k":55,"x":0.6,"y":0.759},{"k":55,"x":0.65,"y":0.708},{"k":55,"x":0.7,"y":0.628},{"k":55,"x":0.75,"y":0.574},{"k":55,"x":0.8,"y":0.504},{"k":55,"x":0.85,"y":0.407},{"k":55,"x":0.9,"y":0.326},{"k":55,"x":0.95,"y":0.207},{"k":55,"x":0.98,"y":0.124},{"k":55,"x":1,"y":0},
{"k":56,"x":0,"y":1},{"k":56,"x":0.02,"y":1.087},{"k":56,"x":0.05,"y":1.123},{"k":56,"x":0.1,"y":1.125},{"k":56,"x":0.15,"y":1.136},{"k":56,"x":0.2,"y":1.108},{"k":56,"x":0.25,"y":1.076},{"k":56,"x":0.3,"y":1.068},{"k":56,"x":0.35,"y":1.014},{"k":56,"x":0.4,"y":0.985},{"k":56,"x":0.45,"y":0.923},{"k":56,"x":0.5,"y":0.890},{"k":56,"x":0.55,"y":0.843},{"k":56,"x":0.6,"y":0.773},{"k":56,"x":0.65,"y":0.730},{"k":56,"x":0.7,"y":0.654},{"k":56,"x":0.75,"y":0.577},{"k":56,"x":0.8,"y":0.515},{"k":56,"x":0.85,"y":0.436},{"k":56,"x":0.9,"y":0.323},{"k":56,"x":0.95,"y":0.222},{"k":56,"x":0.98,"y":0.127},{"k":56,"x":1,"y":0},
{"k":57,"x":0,"y":1},{"k":57,"x":0.02,"y":1.095},{"k":57,"x":0.05,"y":1.124},{"k":57,"x":0.1,"y":1.134},{"k":57,"x":0.15,"y":1.144},{"k":57,"x":0.2,"y":1.135},{"k":57,"x":0.25,"y":1.094},{"k":57,"x":0.3,"y":1.073},{"k":57,"x":0.35,"y":1.045},{"k":57,"x":0.4,"y":0.983},{"k":57,"x":0.45,"y":0.959},{"k":57,"x":0.5,"y":0.902},{"k":57,"x":0.55,"y":0.863},{"k":57,"x":0.6,"y":0.789},{"k":57,"x":0.65,"y":0.734},{"k":57,"x":0.7,"y":0.683},{"k":57,"x":0.75,"y":0.595},{"k":57,"x":0.8,"y":0.531},{"k":57,"x":0.85,"y":0.428},{"k":57,"x":0.9,"y":0.347},{"k":57,"x":0.95,"y":0.233},{"k":57,"x":0.98,"y":0.131},{"k":57,"x":1,"y":0},
{"k":58,"x":0,"y":1},{"k":58,"x":0.02,"y":1.096},{"k":58,"x":0.05,"y":1.140},{"k":58,"x":0.1,"y":1.157},{"k":58,"x":0.15,"y":1.141},{"k":58,"x":0.2,"y":1.145},{"k":58,"x":0.25,"y":1.125},{"k":58,"x":0.3,"y":1.082},{"k":58,"x":0.35,"y":1.052},{"k":58,"x":0.4,"y":1.027},{"k":58,"x":0.45,"y":0.963},{"k":58,"x":0.5,"y":0.937},{"k":58,"x":0.55,"y":0.866},{"k":58,"x":0.6,"y":0.819},{"k":58,"x":0.65,"y":0.744},{"k":58,"x":0.7,"y":0.694},{"k":58,"x":0.75,"y":0.627},{"k":58,"x":0.8,"y":0.526},{"k":58,"x":0.85,"y":0.455},{"k":58,"x":0.9,"y":0.349},{"k":58,"x":0.95,"y":0.228},{"k":58,"x":0.98,"y":0.140},{"k":58,"x":1,"y":0},
{"k":59,"x":0,"y":1},{"k":59,"x":0.02,"y":1.105},{"k":59,"x":0.05,"y":1.145},{"k":59,"x":0.1,"y":1.153},{"k":59,"x":0.15,"y":1.171},{"k":59,"x":0.2,"y":1.145},{"k":59,"x":0.25,"y":1.146},{"k":59,"x":0.3,"y":1.101},{"k":59,"x":0.35,"y":1.081},{"k":59,"x":0.4,"y":1.025},{"k":59,"x":0.45,"y":0.985},{"k":59,"x":0.5,"y":0.950},{"k":59,"x":0.55,"y":0.876},{"k":59,"x":0.6,"y":0.840},{"k":59,"x":0.65,"y":0.773},{"k":59,"x":0.7,"y":0.698},{"k":59,"x":0.75,"y":0.637},{"k":59,"x":0.8,"y":0.544},{"k":59,"x":0.85,"y":0.477},{"k":59,"x":0.9,"y":0.373},{"k":59,"x":0.95,"y":0.239},{"k":59,"x":0.98,"y":0.145},{"k":59,"x":1,"y":0},
{"k":60,"x":0,"y":1},{"k":60,"x":0.02,"y":1.110},{"k":60,"x":0.05,"y":1.146},{"k":60,"x":0.1,"y":1.170},{"k":60,"x":0.15,"y":1.160},{"k":60,"x":0.2,"y":1.150},{"k":60,"x":0.25,"y":1.130},{"k":60,"x":0.3,"y":1.120},{"k":60,"x":0.35,"y":1.077},{"k":60,"x":0.4,"y":1.059},{"k":60,"x":0.45,"y":1.011},{"k":60,"x":0.5,"y":0.952},{"k":60,"x":0.55,"y":0.920},{"k":60,"x":0.6,"y":0.849},{"k":60,"x":0.65,"y":0.796},{"k":60,"x":0.7,"y":0.712},{"k":60,"x":0.75,"y":0.653},{"k":60,"x":0.8,"y":0.578},{"k":60,"x":0.85,"y":0.472},{"k":60,"x":0.9,"y":0.382},{"k":60,"x":0.95,"y":0.247},{"k":60,"x":0.98,"y":0.150},{"k":60,"x":1,"y":0},
{"k":61,"x":0,"y":1},{"k":61,"x":0.02,"y":1.114},{"k":61,"x":0.05,"y":1.164},{"k":61,"x":0.1,"y":1.182},{"k":61,"x":0.15,"y":1.170},{"k":61,"x":0.2,"y":1.160},{"k":61,"x":0.25,"y":1.150},{"k":61,"x":0.3,"y":1.145},{"k":61,"x":0.35,"y":1.105},{"k":61,"x":0.4,"y":1.078},{"k":61,"x":0.45,"y":1.018},{"k":61,"x":0.5,"y":0.985},{"k":61,"x":0.55,"y":0.938},{"k":61,"x":0.6,"y":0.866},{"k":61,"x":0.65,"y":0.821},{"k":61,"x":0.7,"y":0.741},{"k":61,"x":0.75,"y":0.659},{"k":61,"x":0.8,"y":0.591},{"k":61,"x":0.85,"y":0.504},{"k":61,"x":0.9,"y":0.380},{"k":61,"x":0.95,"y":0.263},{"k":61,"x":0.98,"y":0.154},{"k":61,"x":1,"y":0},
{"k":62,"x":0,"y":1},{"k":62,"x":0.02,"y":1.123},{"k":62,"x":0.05,"y":1.167},{"k":62,"x":0.1,"y":1.194},{"k":62,"x":0.15,"y":1.180},{"k":62,"x":0.2,"y":1.170},{"k":62,"x":0.25,"y":1.160},{"k":62,"x":0.3,"y":1.150},{"k":62,"x":0.35,"y":1.140},{"k":62,"x":0.4,"y":1.080},{"k":62,"x":0.45,"y":1.058},{"k":62,"x":0.5,"y":1.002},{"k":62,"x":0.55,"y":0.962},{"k":62,"x":0.6,"y":0.886},{"k":62,"x":0.65,"y":0.829},{"k":62,"x":0.7,"y":0.774},{"k":62,"x":0.75,"y":0.681},{"k":62,"x":0.8,"y":0.611},{"k":62,"x":0.85,"y":0.499},{"k":62,"x":0.9,"y":0.407},{"k":62,"x":0.95,"y":0.276},{"k":62,"x":0.98,"y":0.159},{"k":62,"x":1,"y":0},
{"k":63,"x":0,"y":1},{"k":63,"x":0.02,"y":1.126},{"k":63,"x":0.05,"y":1.186},{"k":63,"x":0.1,"y":1.205},{"k":63,"x":0.15,"y":1.200},{"k":63,"x":0.2,"y":1.185},{"k":63,"x":0.25,"y":1.180},{"k":63,"x":0.3,"y":1.160},{"k":63,"x":0.35,"y":1.152},{"k":63,"x":0.4,"y":1.130},{"k":63,"x":0.45,"y":1.068},{"k":63,"x":0.5,"y":1.043},{"k":63,"x":0.55,"y":0.971},{"k":63,"x":0.6,"y":0.922},{"k":63,"x":0.65,"y":0.844},{"k":63,"x":0.7,"y":0.790},{"k":63,"x":0.75,"y":0.719},{"k":63,"x":0.8,"y":0.611},{"k":63,"x":0.85,"y":0.530},{"k":63,"x":0.9,"y":0.412},{"k":63,"x":0.95,"y":0.274},{"k":63,"x":0.98,"y":0.170},{"k":63,"x":1,"y":0},
{"k":64,"x":0,"y":1},{"k":64,"x":0.02,"y":1.136},{"k":64,"x":0.05,"y":1.195},{"k":64,"x":0.1,"y":1.221},{"k":64,"x":0.15,"y":1.215},{"k":64,"x":0.2,"y":1.200},{"k":64,"x":0.25,"y":1.205},{"k":64,"x":0.3,"y":1.185},{"k":64,"x":0.35,"y":1.175},{"k":64,"x":0.4,"y":1.136},{"k":64,"x":0.45,"y":1.098},{"k":64,"x":0.5,"y":1.064},{"k":64,"x":0.55,"y":0.989},{"k":64,"x":0.6,"y":0.951},{"k":64,"x":0.65,"y":0.881},{"k":64,"x":0.7,"y":0.802},{"k":64,"x":0.75,"y":0.735},{"k":64,"x":0.8,"y":0.635},{"k":64,"x":0.85,"y":0.558},{"k":64,"x":0.9,"y":0.441},{"k":64,"x":0.95,"y":0.289},{"k":64,"x":0.98,"y":0.176},{"k":64,"x":1,"y":0},
{"k":65,"x":0,"y":1},{"k":65,"x":0.02,"y":1.144},{"k":65,"x":0.05,"y":1.199},{"k":65,"x":0.1,"y":1.230},{"k":65,"x":0.15,"y":1.225},{"k":65,"x":0.2,"y":1.220},{"k":65,"x":0.25,"y":1.215},{"k":65,"x":0.3,"y":1.205},{"k":65,"x":0.35,"y":1.180},{"k":65,"x":0.4,"y":1.165},{"k":65,"x":0.45,"y":1.132},{"k":65,"x":0.5,"y":1.074},{"k":65,"x":0.55,"y":1.041},{"k":65,"x":0.6,"y":0.968},{"k":65,"x":0.65,"y":0.912},{"k":65,"x":0.7,"y":0.824},{"k":65,"x":0.75,"y":0.758},{"k":65,"x":0.8,"y":0.675},{"k":65,"x":0.85,"y":0.559},{"k":65,"x":0.9,"y":0.455},{"k":65,"x":0.95,"y":0.300},{"k":65,"x":0.98,"y":0.184},{"k":65,"x":1,"y":0},
{"k":66,"x":0,"y":1},{"k":66,"x":0.02,"y":1.151},{"k":66,"x":0.05,"y":1.221},{"k":66,"x":0.1,"y":1.235},{"k":66,"x":0.15,"y":1.255},{"k":66,"x":0.2,"y":1.240},{"k":66,"x":0.25,"y":1.235},{"k":66,"x":0.3,"y":1.240},{"k":66,"x":0.35,"y":1.210},{"k":66,"x":0.4,"y":1.190},{"k":66,"x":0.45,"y":1.147},{"k":66,"x":0.5,"y":1.116},{"k":66,"x":0.55,"y":1.067},{"k":66,"x":0.6,"y":0.994},{"k":66,"x":0.65,"y":0.945},{"k":66,"x":0.7,"y":0.860},{"k":66,"x":0.75,"y":0.772},{"k":66,"x":0.8,"y":0.695},{"k":66,"x":0.85,"y":0.597},{"k":66,"x":0.9,"y":0.459},{"k":66,"x":0.95,"y":0.320},{"k":66,"x":0.98,"y":0.191},{"k":66,"x":1,"y":0},
{"k":67,"x":0,"y":1},{"k":67,"x":0.02,"y":1.163},{"k":67,"x":0.05,"y":1.228},{"k":67,"x":0.1,"y":1.250},{"k":67,"x":0.15,"y":1.270},{"k":67,"x":0.2,"y":1.262},{"k":67,"x":0.25,"y":1.265},{"k":67,"x":0.3,"y":1.262},{"k":67,"x":0.35,"y":1.245},{"k":67,"x":0.4,"y":1.200},{"k":67,"x":0.45,"y":1.170},{"k":67,"x":0.5,"y":1.120},{"k":67,"x":0.55,"y":1.080},{"k":67,"x":0.6,"y":1.024},{"k":67,"x":0.65,"y":0.963},{"k":67,"x":0.7,"y":0.903},{"k":67,"x":0.75,"y":0.803},{"k":67,"x":0.8,"y":0.723},{"k":67,"x":0.85,"y":0.600},{"k":67,"x":0.9,"y":0.491},{"k":67,"x":0.95,"y":0.337},{"k":67,"x":0.98,"y":0.199},{"k":67,"x":1,"y":0},
{"k":68,"x":0,"y":1},{"k":68,"x":0.02,"y":1.167},{"k":68,"x":0.05,"y":1.250},{"k":68,"x":0.1,"y":1.270},{"k":68,"x":0.15,"y":1.285},{"k":68,"x":0.2,"y":1.290},{"k":68,"x":0.25,"y":1.295},{"k":68,"x":0.3,"y":1.290},{"k":68,"x":0.35,"y":1.270},{"k":68,"x":0.4,"y":1.250},{"k":68,"x":0.45,"y":1.200},{"k":68,"x":0.5,"y":1.165},{"k":68,"x":0.55,"y":1.120},{"k":68,"x":0.6,"y":1.055},{"k":68,"x":0.65,"y":0.984},{"k":68,"x":0.7,"y":0.924},{"k":68,"x":0.75,"y":0.846},{"k":68,"x":0.8,"y":0.728},{"k":68,"x":0.85,"y":0.635},{"k":68,"x":0.9,"y":0.500},{"k":68,"x":0.95,"y":0.338},{"k":68,"x":0.98,"y":0.211},{"k":68,"x":1,"y":0},
{"k":69,"x":0,"y":1},{"k":69,"x":0.02,"y":1.175},{"k":69,"x":0.05,"y":1.255},{"k":69,"x":0.1,"y":1.285},{"k":69,"x":0.15,"y":1.300},{"k":69,"x":0.2,"y":1.312},{"k":69,"x":0.25,"y":1.305},{"k":69,"x":0.3,"y":1.310},{"k":69,"x":0.35,"y":1.330},{"k":69,"x":0.4,"y":1.345},{"k":69,"x":0.45,"y":1.355},{"k":69,"x":0.5,"y":1.225},{"k":69,"x":0.55,"y":1.160},{"k":69,"x":0.6,"y":1.085},{"k":69,"x":0.65,"y":1.010},{"k":69,"x":0.7,"y":0.935},{"k":69,"x":0.75,"y":0.835},{"k":69,"x":0.8,"y":0.735},{"k":69,"x":0.85,"y":0.640},{"k":69,"x":0.9,"y":0.510},{"k":69,"x":0.95,"y":0.345},{"k":69,"x":0.98,"y":0.215},{"k":69,"x":1,"y":0}
],
"ell":[
{"o":0,"x":0,"y":1},{"o":1,"x":0.002,"y":1.0615},{"o":2,"x":0.005,"y":1.0952},{"o":3,"x":0.01,"y":1.1313},{"o":4,"x":0.02,"y":1.1788},{"o":5,"x":0.035,"y":1.226},{"o":6,"x":0.05,"y":1.2595},{"o":7,"x":0.075,"y":1.299},{"o":8,"x":0.1,"y":1.326},{"o":9,"x":0.15,"y":1.357},{"o":10,"x":0.2,"y":1.368},{"o":11,"x":0.25,"y":1.3649},{"o":12,"x":0.3,"y":1.3507},{"o":13,"x":0.35,"y":1.3273},{"o":14,"x":0.4,"y":1.2957},{"o":15,"x":0.45,"y":1.2564},{"o":16,"x":0.5,"y":1.21},{"o":17,"x":0.55,"y":1.1564},{"o":18,"x":0.6,"y":1.0957},{"o":19,"x":0.65,"y":1.0273},{"o":20,"x":0.7,"y":0.9507},{"o":21,"x":0.75,"y":0.8649},{"o":22,"x":0.8,"y":0.768},{"o":23,"x":0.85,"y":0.657},{"o":24,"x":0.9,"y":0.526},{"o":25,"x":0.925,"y":0.449},{"o":26,"x":0.95,"y":0.3595},{"o":27,"x":0.965,"y":0.296},{"o":28,"x":0.98,"y":0.2188},{"o":29,"x":0.99,"y":0.1513},{"o":30,"x":0.995,"y":0.1052},{"o":31,"x":0.998,"y":0.0655},{"o":32,"x":1,"y":0},
{"o":33,"x":0.998,"y":-0.0615},{"o":34,"x":0.995,"y":-0.0952},{"o":35,"x":0.99,"y":-0.1313},{"o":36,"x":0.98,"y":-0.1788},{"o":37,"x":0.965,"y":-0.226},{"o":38,"x":0.95,"y":-0.2595},{"o":39,"x":0.925,"y":-0.299},{"o":40,"x":0.9,"y":-0.326},{"o":41,"x":0.85,"y":-0.357},{"o":42,"x":0.8,"y":-0.368},{"o":43,"x":0.75,"y":-0.3649},{"o":44,"x":0.7,"y":-0.3507},{"o":45,"x":0.65,"y":-0.3273},{"o":46,"x":0.6,"y":-0.2957},{"o":47,"x":0.55,"y":-0.2564},{"o":48,"x":0.5,"y":-0.21},{"o":49,"x":0.45,"y":-0.1564},{"o":50,"x":0.4,"y":-0.0957},{"o":51,"x":0.35,"y":-0.0273},{"o":52,"x":0.3,"y":0.0493},{"o":53,"x":0.25,"y":0.1351},{"o":54,"x":0.2,"y":0.232},{"o":55,"x":0.15,"y":0.343},{"o":56,"x":0.1,"y":0.474},{"o":57,"x":0.075,"y":0.551},{"o":58,"x":0.05,"y":0.6405},{"o":59,"x":0.035,"y":0.704},{"o":60,"x":0.02,"y":0.7812},{"o":61,"x":0.01,"y":0.8487},{"o":62,"x":0.005,"y":0.8948},{"o":63,"x":0.002,"y":0.9385},{"o":64,"x":0,"y":1}
]
},
"layer":[
{"data":{"name":"lines"},
 "mark":{"type":"line","strokeWidth":0.9,"clip":true},
 "encoding":{
  "x":{"field":"x","type":"quantitative","scale":{"domain":[0,0.994],"nice":false,"zero":false},
       "axis":{"orient":"bottom","values":[0,0.1,0.2,0.3,0.4,0.5,0.6,0.7,0.8,0.9],"format":"~g","tickSize":-7,"labelPadding":11,"title":null}},
  "y":{"field":"y","type":"quantitative","scale":{"domain":[-0.4,1.4],"nice":false,"zero":false},
       "axis":{"orient":"left","values":[-0.4,-0.2,0,0.2,0.4,0.6,0.8,1,1.2,1.4],"format":"~g","tickSize":-7,"labelPadding":10,"title":null}},
  "color":{"field":"k","type":"ordinal","scale":{"range":["#0000ff","#008000","#ff0000","#00bfbf","#bf00bf","#bfbf00","#404040"]},"legend":null}
 }},
{"data":{"name":"ell"},
 "mark":{"type":"line","color":"#000000","strokeWidth":2,"clip":true},
 "encoding":{
  "x":{"field":"x","type":"quantitative","axis":{"orient":"top","values":[0,0.1,0.2,0.3,0.4,0.5,0.6,0.7,0.8,0.9],"labels":false,"tickSize":-7,"title":null}},
  "y":{"field":"y","type":"quantitative","axis":{"orient":"right","values":[-0.4,-0.2,0,0.2,0.4,0.6,0.8,1,1.2,1.4],"labels":false,"tickSize":-7,"title":null}},
  "order":{"field":"o","type":"quantitative"}
 }}
],
"resolve":{"axis":{"x":"independent","y":"independent"}}
}
